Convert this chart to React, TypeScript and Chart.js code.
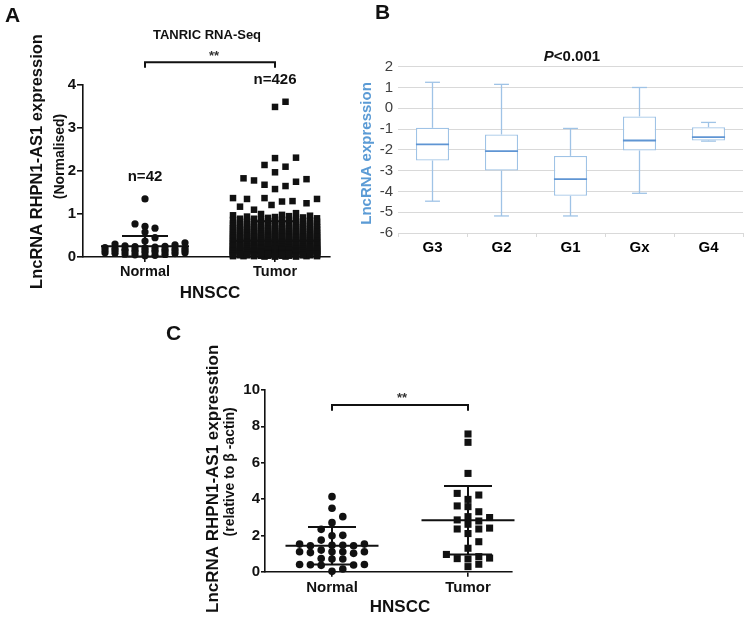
import React, { useEffect, useRef } from 'react';
import { Chart, registerables } from 'chart.js';
Chart.register(...registerables);

const FONT = '"Liberation Sans", Arial, Helvetica, sans-serif';
const INK = '#111111';

// ---------- Panel A : TANRIC RNA-Seq ----------
const groupsA = ['Normal', 'Tumor'];
const countLabelsA = ['n=42', 'n=426'];
const countLevelA = [1.86, 4.12];
const yTicksA = [0, 1, 2, 3, 4];
const meanA = [0.25, 0.38];
const sdA = [0.24, 0.45];
const normalA = [
  1.35, 0.77, 0.71, 0.67, 0.58, 0.45,
  0.03, 0.04, 0.05, 0.06, 0.07, 0.08, 0.09, 0.10, 0.10, 0.11, 0.12, 0.12,
  0.13, 0.14, 0.14, 0.15, 0.15, 0.16, 0.16, 0.17, 0.17, 0.18, 0.18, 0.19,
  0.20, 0.20, 0.21, 0.22, 0.23, 0.24, 0.25, 0.26, 0.28, 0.30, 0.33, 0.37,
];
const tumorA = [
  3.61, 3.49, 2.30, 2.31, 2.10, 2.14, 1.97, 1.78, 1.83, 1.68, 1.58, 1.65,
  1.75, 1.81, 1.37, 1.30, 1.35, 1.17, 1.29, 1.25, 1.35, 1.37, 1.21, 1.10,
  0.90, 0.91, 0.92, 0.93, 0.94, 0.95, 0.96, 0.97, 0.98, 1.00, 1.02,
  0.80, 0.81, 0.82, 0.83, 0.84, 0.85, 0.86, 0.87, 0.88, 0.89, 0.81, 0.83, 0.85, 0.87, 0.89, 0.84,
  0.70, 0.71, 0.72, 0.73, 0.74, 0.75, 0.76, 0.77, 0.78, 0.79, 0.70, 0.72, 0.74, 0.76, 0.78, 0.71,
  0.73, 0.75, 0.77, 0.79, 0.72, 0.76,
  0.60, 0.61, 0.62, 0.62, 0.63, 0.64, 0.65, 0.65, 0.66, 0.67, 0.68, 0.68, 0.69, 0.60, 0.62, 0.64,
  0.66, 0.68, 0.61, 0.63, 0.65, 0.67, 0.69, 0.60, 0.63, 0.66, 0.69, 0.64,
  0.50, 0.51, 0.51, 0.52, 0.53, 0.53, 0.54, 0.55, 0.55, 0.56, 0.57, 0.57, 0.58, 0.59, 0.59, 0.50,
  0.52, 0.54, 0.56, 0.58, 0.51, 0.53, 0.55, 0.57, 0.59, 0.50, 0.53, 0.56, 0.59, 0.52, 0.55, 0.58,
  0.51, 0.54, 0.57,
  0.40, 0.41, 0.41, 0.42, 0.42, 0.43, 0.43, 0.44, 0.44, 0.45, 0.45, 0.46, 0.46, 0.47, 0.47, 0.48,
  0.48, 0.49, 0.49, 0.40, 0.42, 0.44, 0.46, 0.48, 0.41, 0.43, 0.45, 0.47, 0.49, 0.40, 0.43, 0.46,
  0.49, 0.42, 0.45, 0.48, 0.41, 0.44, 0.47, 0.45,
  0.30, 0.31, 0.31, 0.32, 0.32, 0.33, 0.33, 0.34, 0.34, 0.35, 0.35, 0.36, 0.36, 0.37, 0.37, 0.38,
  0.38, 0.39, 0.39, 0.30, 0.32, 0.34, 0.36, 0.38, 0.31, 0.33, 0.35, 0.37, 0.39, 0.30, 0.33, 0.36,
  0.39, 0.32, 0.35, 0.38, 0.31, 0.34, 0.37, 0.30, 0.33, 0.35, 0.36, 0.38, 0.31, 0.34, 0.37, 0.32,
  0.35, 0.39,
  0.20, 0.21, 0.21, 0.22, 0.22, 0.23, 0.23, 0.24, 0.24, 0.25, 0.25, 0.25, 0.26, 0.26, 0.27, 0.27,
  0.28, 0.28, 0.29, 0.29, 0.20, 0.22, 0.24, 0.26, 0.28, 0.21, 0.23, 0.25, 0.27, 0.29, 0.20, 0.23,
  0.26, 0.29, 0.22, 0.25, 0.28, 0.21, 0.24, 0.27, 0.20, 0.22, 0.23, 0.25, 0.26, 0.28, 0.21, 0.24,
  0.27, 0.29, 0.22, 0.25, 0.20, 0.23, 0.26, 0.28, 0.24, 0.27, 0.21, 0.25,
  0.10, 0.11, 0.11, 0.12, 0.12, 0.12, 0.13, 0.13, 0.13, 0.14, 0.14, 0.14, 0.15, 0.15, 0.15, 0.15,
  0.16, 0.16, 0.16, 0.17, 0.17, 0.17, 0.18, 0.18, 0.18, 0.19, 0.19, 0.19, 0.10, 0.11, 0.12, 0.13,
  0.14, 0.15, 0.16, 0.17, 0.18, 0.19, 0.10, 0.12, 0.14, 0.16, 0.18, 0.11, 0.13, 0.15, 0.17, 0.19,
  0.10, 0.13, 0.16, 0.19, 0.12, 0.15, 0.18, 0.11, 0.14, 0.17, 0.10, 0.16, 0.12, 0.14, 0.15, 0.17,
  0.18, 0.11, 0.13, 0.16, 0.19, 0.15,
  0.01, 0.02, 0.02, 0.03, 0.03, 0.03, 0.04, 0.04, 0.04, 0.05, 0.05, 0.05, 0.05, 0.06, 0.06, 0.06,
  0.06, 0.07, 0.07, 0.07, 0.07, 0.08, 0.08, 0.08, 0.08, 0.09, 0.09, 0.09, 0.09, 0.09, 0.01, 0.02,
  0.03, 0.04, 0.05, 0.06, 0.07, 0.08, 0.09, 0.02, 0.04, 0.06, 0.08, 0.03, 0.05, 0.07, 0.09, 0.01,
  0.04, 0.06, 0.08, 0.02, 0.05, 0.07, 0.09, 0.03, 0.06, 0.08, 0.04, 0.07, 0.01, 0.03, 0.05, 0.06,
  0.08, 0.02, 0.04, 0.07, 0.09, 0.05,
];

// ---------- Panel B : grade box plot ----------
const gradesB = ['G3', 'G2', 'G1', 'Gx', 'G4'];
const minB = [-4.47, -5.18, -5.18, -4.09, -1.58];
const q1B = [-2.51, -2.99, -4.21, -2.03, -1.55];
const medB = [-1.74, -2.06, -3.41, -1.55, -1.39];
const q3B = [-0.94, -1.26, -2.29, -0.39, -0.91];
const maxB = [1.25, 1.15, -0.97, 1.0, -0.68];
const yTicksB = [-6, -5, -4, -3, -2, -1, 0, 1, 2];

// ---------- Panel C : qPCR ----------
const groupsC = ['Normal', 'Tumor'];
const yTicksC = [0, 2, 4, 6, 8, 10];
const meanC = [1.43, 2.83];
const sdC = [1.03, 1.88];
const normalC = [
  0.02, 0.15, 0.40, 0.37, 0.35, 0.38, 0.40, 0.72, 0.70, 0.70, 1.10, 1.01, 1.19, 1.10, 1.05, 1.10,
  1.10, 1.74, 1.52, 1.43, 1.45, 1.43, 1.45, 1.52, 1.98, 2.00, 2.33, 2.70, 3.03, 3.49, 4.13,
];
const tumorC = [
  0.28, 0.41, 0.70, 0.72, 0.75, 0.83, 0.95, 1.29, 1.65, 2.10, 2.35, 2.35, 2.40, 2.61, 2.79, 2.85,
  2.98, 3.03, 3.30, 3.58, 3.62, 3.98, 4.22, 4.31, 5.41, 7.12, 7.58,
];

// ---------- helpers ----------
type SwarmOpt = { colPx: number; sizeX: number; fillX: number; sizeY: number; maxHalf: number };

function swarmOffsets(values: number[], pxPerY: number, o: SwarmOpt): number[] {
  const idx = values.map((_, i) => i).sort((a, b) => values[a] - values[b]);
  const maxK = Math.floor(o.maxHalf / o.colPx);
  const order: number[] = [0];
  for (let k = 1; k <= maxK; k++) order.push(k, -k);
  const placed: { x: number; y: number }[] = [];
  const out: number[] = new Array(values.length).fill(0);
  for (const i of idx) {
    const py = values[i] * pxPerY;
    let chosen: number | null = null;
    let best = 0;
    let bestScore = -1;
    for (const k of order) {
      const px = k * o.colPx;
      let free = Infinity;
      let fill = Infinity;
      for (const p of placed) {
        const dx = Math.abs(p.x - px);
        const d = Math.abs(py - p.y);
        if (dx < o.sizeX && d < free) free = d;
        if (dx < o.fillX && d < fill) fill = d;
      }
      if (free >= o.sizeY) { chosen = px; break; }
      if (fill > bestScore) { bestScore = fill; best = px; }
    }
    const x = chosen !== null ? chosen : best;
    placed.push({ x, y: py });
    out[i] = x;
  }
  return out;
}

function text(ctx: CanvasRenderingContext2D, s: string, x: number, y: number, font: string, color = INK, align: CanvasTextAlign = 'center', baseline: CanvasTextBaseline = 'middle') {
  ctx.save();
  ctx.font = font;
  ctx.fillStyle = color;
  ctx.textAlign = align;
  ctx.textBaseline = baseline;
  ctx.fillText(s, x, y);
  ctx.restore();
}

function vtext(ctx: CanvasRenderingContext2D, s: string, x: number, y: number, font: string, color = INK) {
  ctx.save();
  ctx.translate(x, y);
  ctx.rotate(-Math.PI / 2);
  ctx.font = font;
  ctx.fillStyle = color;
  ctx.textAlign = 'center';
  ctx.textBaseline = 'middle';
  ctx.fillText(s, 0, 0);
  ctx.restore();
}

function line(ctx: CanvasRenderingContext2D, x1: number, y1: number, x2: number, y2: number) {
  ctx.beginPath();
  ctx.moveTo(x1, y1);
  ctx.lineTo(x2, y2);
  ctx.stroke();
}

function bracket(ctx: CanvasRenderingContext2D, xa: number, xb: number, yTop: number, yEnd: number) {
  ctx.save();
  ctx.strokeStyle = INK;
  ctx.lineWidth = 2;
  ctx.beginPath();
  ctx.moveTo(xa, yEnd);
  ctx.lineTo(xa, yTop);
  ctx.lineTo(xb, yTop);
  ctx.lineTo(xb, yEnd);
  ctx.stroke();
  ctx.restore();
}

function meanSd(chart: any, means: number[], sds: number[], meanW: number, sdW: number) {
  const { ctx, scales: { x, y } } = chart;
  ctx.save();
  ctx.strokeStyle = INK;
  ctx.lineWidth = 2;
  for (let i = 0; i < means.length; i++) {
    const cx = x.getPixelForValue(i);
    const m = y.getPixelForValue(means[i]);
    const hiV = means[i] + sds[i];
    const loV = means[i] - sds[i];
    const hi = y.getPixelForValue(hiV);
    const lo = y.getPixelForValue(Math.max(loV, y.min));
    line(ctx, cx - meanW / 2, m, cx + meanW / 2, m);
    line(ctx, cx - sdW / 2, hi, cx + sdW / 2, hi);
    if (loV >= y.min) line(ctx, cx - sdW / 2, lo, cx + sdW / 2, lo);
    line(ctx, cx, hi, cx, lo);
  }
  ctx.restore();
}

function axisStyle(tickLength: number) {
  return {
    grid: { display: true, drawOnChartArea: false, drawTicks: true, tickLength, color: INK, lineWidth: 1.6 },
    border: { display: true, color: INK, width: 1.6 },
  };
}

function applySwarm(chart: any, sets: ({ values: number[]; cat: number } & SwarmOpt)[]) {
  const xs = chart.scales.x;
  const ys = chart.scales.y;
  const pxPerX = Math.abs(xs.getPixelForValue(1) - xs.getPixelForValue(0));
  const pxPerY = Math.abs(ys.getPixelForValue(0) - ys.getPixelForValue(1));
  sets.forEach((s, d) => {
    const off = swarmOffsets(s.values, pxPerY, s);
    chart.data.datasets[d].data = s.values.map((v, i) => ({ x: s.cat + off[i] / pxPerX, y: v }));
  });
  chart.update();
}

// ---------- chart factories ----------
function makeA(canvas: HTMLCanvasElement) {
  const plug = {
    id: 'panelA',
    afterDatasetsDraw(chart: any) {
      meanSd(chart, meanA, sdA, 88, 46);
    },
    afterDraw(chart: any) {
      const { ctx, chartArea, scales: { x, y } } = chart;
      const x0 = x.getPixelForValue(0);
      const x1 = x.getPixelForValue(1);
      const mid = (x0 + x1) / 2;
      text(ctx, 'TANRIC RNA-Seq', mid - 3, chartArea.top - 50, `bold 13px ${FONT}`);
      bracket(ctx, x0, x1, y.getPixelForValue(4.53), y.getPixelForValue(4.4));
      text(ctx, '**', mid + 4, y.getPixelForValue(4.57), `bold 13px ${FONT}`, '#333', 'center', 'alphabetic');
      countLabelsA.forEach((s, i) => text(ctx, s, x.getPixelForValue(i), y.getPixelForValue(countLevelA[i]), `bold 15px ${FONT}`));
      const ym = (chartArea.top + chartArea.bottom) / 2;
      vtext(ctx, 'LncRNA RHPN1-AS1 expression', chartArea.left - 46, ym - 9.5, `bold 16.5px ${FONT}`);
      vtext(ctx, '(Normalised)', chartArea.left - 23, ym - 14.5, `bold 14px ${FONT}`);
      text(ctx, 'HNSCC', mid, chartArea.bottom + 36, `bold 17px ${FONT}`);
    },
  };
  const chart = new Chart(canvas, {
    type: 'scatter',
    data: {
      datasets: [
        { label: groupsA[0], data: normalA.map((v) => ({ x: 0, y: v })), pointStyle: 'circle', pointRadius: 3.6, pointHoverRadius: 3.6, backgroundColor: INK, borderWidth: 0, clip: false },
        { label: groupsA[1], data: tumorA.map((v) => ({ x: 1, y: v })), pointStyle: 'rect', pointRadius: 4.6, pointHoverRadius: 4.6, backgroundColor: INK, borderWidth: 0, clip: false },
      ],
    },
    options: {
      animation: false,
      responsive: false,
      devicePixelRatio: 1,
      events: [],
      layout: { padding: { top: 85, right: 5, left: 0, bottom: 0 } },
      plugins: { legend: { display: false }, tooltip: { enabled: false } },
      scales: {
        x: {
          type: 'linear', min: -0.477, max: 1.423,
          afterBuildTicks: (s: any) => { s.ticks = groupsA.map((_, i) => ({ value: i })); },
          afterFit: (s: any) => { s.height = 43; },
          ticks: { callback: (v: any) => groupsA[v], font: { family: FONT, size: 14.5, weight: 'bold' }, color: INK, padding: 1.5, autoSkip: false, maxRotation: 0 },
          ...axisStyle(5),
        },
        y: {
          min: 0, max: 4,
          afterBuildTicks: (s: any) => { s.ticks = yTicksA.map((v) => ({ value: v })); },
          afterFit: (s: any) => { s.width = 83; },
          ticks: { font: { family: FONT, size: 15, weight: 'bold' }, color: INK, padding: 1, autoSkip: false },
          ...axisStyle(6),
        },
      },
    } as any,
    plugins: [plug],
  });
  applySwarm(chart, [
    { values: normalA, cat: 0, colPx: 5, sizeX: 8, fillX: 7, sizeY: 5.5, maxHalf: 40 },
    { values: tumorA, cat: 1, colPx: 3.5, sizeX: 10, fillX: 6.5, sizeY: 12, maxHalf: 45 },
  ]);
  return chart;
}

function makeB(canvas: HTMLCanvasElement) {
  const BOX = '#9fc3e6';
  const MED = '#5f95d3';
  const plug = {
    id: 'panelB',
    afterDatasetsDraw(chart: any) {
      const { ctx, scales: { x, y } } = chart;
      const meta = chart.getDatasetMeta(0);
      ctx.save();
      ctx.lineWidth = 1.3;
      for (let i = 0; i < gradesB.length; i++) {
        const cx = x.getPixelForValue(i);
        const w = meta.data[i].width;
        const cap = w * 0.45;
        ctx.strokeStyle = BOX;
        line(ctx, cx, y.getPixelForValue(q3B[i]), cx, y.getPixelForValue(maxB[i]));
        line(ctx, cx, y.getPixelForValue(q1B[i]), cx, y.getPixelForValue(minB[i]));
        line(ctx, cx - cap / 2, y.getPixelForValue(maxB[i]), cx + cap / 2, y.getPixelForValue(maxB[i]));
        line(ctx, cx - cap / 2, y.getPixelForValue(minB[i]), cx + cap / 2, y.getPixelForValue(minB[i]));
        ctx.strokeStyle = MED;
        ctx.lineWidth = 1.8;
        line(ctx, cx - w / 2, y.getPixelForValue(medB[i]), cx + w / 2, y.getPixelForValue(medB[i]));
        ctx.lineWidth = 1.3;
      }
      ctx.restore();
    },
    afterDraw(chart: any) {
      const { ctx, chartArea } = chart;
      const cx = (chartArea.left + chartArea.right) / 2 + 1.5;
      const ty = chartArea.top - 10;
      ctx.save();
      ctx.font = `italic bold 15px ${FONT}`;
      const wP = ctx.measureText('P').width;
      ctx.font = `bold 15px ${FONT}`;
      const wR = ctx.measureText('<0.001').width;
      ctx.restore();
      const sx = cx - (wP + wR) / 2;
      text(ctx, 'P', sx, ty, `italic bold 15px ${FONT}`, INK, 'left');
      text(ctx, '<0.001', sx + wP, ty, `bold 15px ${FONT}`, INK, 'left');
      const ym = (chartArea.top + chartArea.bottom) / 2;
      vtext(ctx, 'LncRNA expression', chartArea.left - 31, ym + 3.6, `bold 15px ${FONT}`, '#5b9bd5');
    },
  };
  return new Chart(canvas, {
    type: 'bar',
    data: {
      labels: gradesB,
      datasets: [{
        label: 'box',
        data: gradesB.map((_, i) => [q1B[i], q3B[i]]),
        backgroundColor: '#ffffff',
        borderColor: BOX,
        borderWidth: 1.3,
        borderSkipped: false,
        barPercentage: 0.48,
        categoryPercentage: 1,
      }],
    },
    options: {
      animation: false,
      responsive: false,
      devicePixelRatio: 1,
      events: [],
      layout: { padding: { top: 26.7, right: 8, left: 0, bottom: 0 } },
      plugins: { legend: { display: false }, tooltip: { enabled: false } },
      scales: {
        x: {
          afterFit: (s: any) => { s.height = 27; },
          ticks: { font: { family: FONT, size: 15, weight: 'bold' }, color: '#000', padding: 2 },
          grid: { display: true, drawOnChartArea: false, drawTicks: true, tickLength: 4, offset: true, color: '#d9d9d9' },
          border: { display: false },
        },
        y: {
          min: -6, max: 2,
          afterBuildTicks: (s: any) => { s.ticks = yTicksB.map((v) => ({ value: v })); },
          ticks: { font: { family: FONT, size: 15 }, color: '#404040', padding: 5, autoSkip: false },
          afterFit: (s: any) => { s.width = 68; },
          grid: { color: '#d9d9d9', lineWidth: 1, drawTicks: false },
          border: { display: false },
        },
      },
    } as any,
    plugins: [plug],
  });
}

function makeC(canvas: HTMLCanvasElement) {
  const plug = {
    id: 'panelC',
    afterDatasetsDraw(chart: any) {
      meanSd(chart, meanC, sdC, 93, 48);
    },
    afterDraw(chart: any) {
      const { ctx, chartArea, scales: { x, y } } = chart;
      const x0 = x.getPixelForValue(0);
      const x1 = x.getPixelForValue(1);
      const mid = (x0 + x1) / 2;
      bracket(ctx, x0, x1, y.getPixelForValue(9.17), y.getPixelForValue(8.86));
      text(ctx, '**', mid + 2, y.getPixelForValue(9.34), `bold 13px ${FONT}`, '#333', 'center', 'alphabetic');
      const ym = (chartArea.top + chartArea.bottom) / 2;
      vtext(ctx, 'LncRNA RHPN1-AS1 expresstion', chartArea.left - 52, ym - 2, `bold 17px ${FONT}`);
      vtext(ctx, '(relative to β -actin)', chartArea.left - 35, ym - 9, `bold 14px ${FONT}`);
      text(ctx, 'HNSCC', mid, chartArea.bottom + 36, `bold 17px ${FONT}`);
    },
  };
  const chart = new Chart(canvas, {
    type: 'scatter',
    data: {
      datasets: [
        { label: groupsC[0], data: normalC.map((v) => ({ x: 0, y: v })), pointStyle: 'circle', pointRadius: 3.8, pointHoverRadius: 3.8, backgroundColor: INK, borderWidth: 0, clip: false },
        { label: groupsC[1], data: tumorC.map((v) => ({ x: 1, y: v })), pointStyle: 'rect', pointRadius: 5, pointHoverRadius: 5, backgroundColor: INK, borderWidth: 0, clip: false },
      ],
    },
    options: {
      animation: false,
      responsive: false,
      devicePixelRatio: 1,
      events: [],
      layout: { padding: { top: 80, right: 8, left: 0, bottom: 0 } },
      plugins: { legend: { display: false }, tooltip: { enabled: false } },
      scales: {
        x: {
          type: 'linear', min: -0.4926, max: 1.3235,
          afterBuildTicks: (s: any) => { s.ticks = groupsC.map((_, i) => ({ value: i })); },
          afterFit: (s: any) => { s.height = 49.3; },
          ticks: { callback: (v: any) => groupsC[v], font: { family: FONT, size: 15, weight: 'bold' }, color: INK, padding: 2, autoSkip: false, maxRotation: 0 },
          ...axisStyle(5),
        },
        y: {
          min: 0, max: 10,
          afterBuildTicks: (s: any) => { s.ticks = yTicksC.map((v) => ({ value: v })); },
          afterFit: (s: any) => { s.width = 105; },
          ticks: { font: { family: FONT, size: 15, weight: 'bold' }, color: INK, padding: 1, autoSkip: false },
          ...axisStyle(4),
        },
      },
    } as any,
    plugins: [plug],
  });
  applySwarm(chart, [
    { values: normalC, cat: 0, colPx: 10.8, sizeX: 10, fillX: 10, sizeY: 7, maxHalf: 40 },
    { values: tumorC, cat: 1, colPx: 10.8, sizeX: 10, fillX: 10, sizeY: 7, maxHalf: 40 },
  ]);
  return chart;
}

function Panel({ left, top, width, height, make }: { left: number; top: number; width: number; height: number; make: (c: HTMLCanvasElement) => Chart }) {
  const ref = useRef<HTMLCanvasElement>(null);
  useEffect(() => {
    const chart = make(ref.current as HTMLCanvasElement);
    return () => chart.destroy();
  }, []);
  return (
    <canvas
      ref={ref}
      width={width}
      height={height}
      style={{ position: 'absolute', left, top, width, height, display: 'block' }}
    />
  );
}

const letterStyle = (left: number, top: number): React.CSSProperties => ({
  position: 'absolute', left, top, font: `bold 21px ${FONT}`, lineHeight: '21px', color: INK,
});

export default function App() {
  return (
    <div style={{ position: 'fixed', left: 0, top: 0, width: 751, height: 621, background: '#fff', overflow: 'hidden' }}>
      <Panel left={0} top={0} width={335} height={300} make={makeA} />
      <Panel left={330} top={40} width={421} height={220} make={makeB} />
      <Panel left={160} top={310} width={360} height={311} make={makeC} />
      <div style={letterStyle(5, 4)}>A</div>
      <div style={letterStyle(375, 1)}>B</div>
      <div style={letterStyle(166, 322)}>C</div>
    </div>
  );
}
